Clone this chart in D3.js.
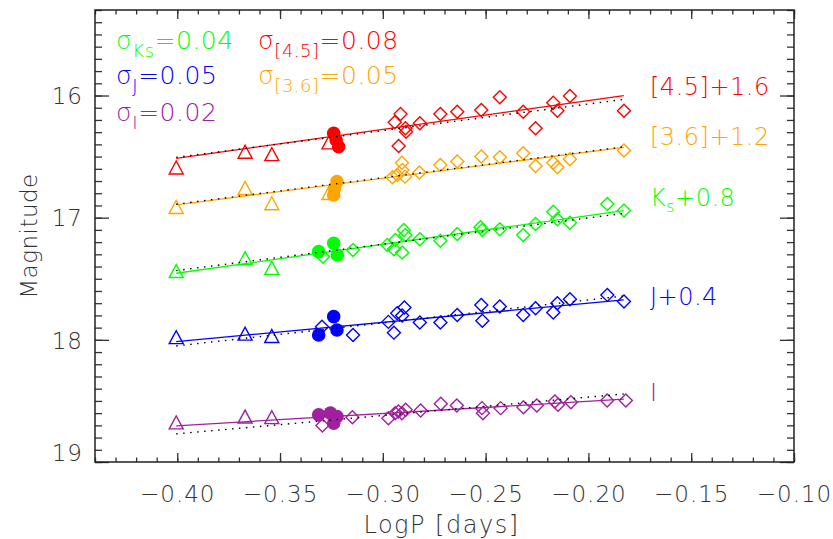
<!DOCTYPE html>
<html>
<head>
<meta charset="utf-8">
<script src="https://cdn.jsdelivr.net/npm/d3@7"></script>
<style>
  body { margin: 0; background: #fff; }
  text { font-family: "DejaVu Sans", sans-serif; font-weight: 200; }
</style>
</head>
<body>
<svg id="chart" width="833" height="539"></svg>
<script>
// bands, top to bottom
const bands = ["[4.5]", "[3.6]", "Ks", "J", "I"];
const bandColors = ["#ff0000", "#ffa500", "#00ff00", "#0000ff", "#a020a0"];
const bandOffsets = ["+1.6", "+1.2", "+0.8", "+0.4", ""];
const sigmas = ["0.08", "0.05", "0.04", "0.05", "0.02"];

// open triangles (4th one only seen in the IRAC bands)
const triangleLogP = [-0.4005, -0.367, -0.354, -0.3262];
const triangleMags = [
  [16.589, 16.460, 16.480, 16.384],
  [16.912, 16.757, 16.882, 16.798],
  [17.437, 17.332, 17.411, null],
  [17.978, 17.949, 17.968, null],
  [18.676, 18.628, 18.633, null]
];

// filled circles [logP, mag]
const circles = [
  [[-0.3239, 16.309], [-0.3227, 16.364], [-0.3215, 16.419]],
  [[-0.3223, 16.705], [-0.3235, 16.760], [-0.3239, 16.814]],
  [[-0.3312, 17.278], [-0.3239, 17.209], [-0.3221, 17.305]],
  [[-0.3312, 17.960], [-0.3239, 17.810], [-0.3223, 17.919]],
  [[-0.3312, 18.614], [-0.3255, 18.600], [-0.3223, 18.627], [-0.3239, 18.682]]
];

// open diamonds [logP, mag]
const diamonds = [
  [[-0.2942, 16.219], [-0.2923, 16.413], [-0.2914, 16.151], [-0.2890, 16.268], [-0.2887, 16.296],
   [-0.2820, 16.227], [-0.2720, 16.151], [-0.2638, 16.132], [-0.2521, 16.118], [-0.2431, 16.014],
   [-0.2317, 16.132], [-0.2257, 16.268], [-0.2171, 16.059], [-0.2151, 16.124], [-0.2090, 16.004],
   [-0.1827, 16.124]],
  [[-0.2953, 16.669], [-0.2929, 16.650], [-0.2907, 16.550], [-0.2905, 16.609], [-0.2892, 16.664],
   [-0.2822, 16.631], [-0.2720, 16.568], [-0.2638, 16.541], [-0.2521, 16.500], [-0.2431, 16.505],
   [-0.2317, 16.473], [-0.2257, 16.577], [-0.2171, 16.550], [-0.2151, 16.587], [-0.2090, 16.522],
   [-0.1827, 16.451]],
  [[-0.3291, 17.319], [-0.3145, 17.264], [-0.2978, 17.223], [-0.2946, 17.258], [-0.2939, 17.182],
   [-0.2906, 17.286], [-0.2898, 17.100], [-0.2890, 17.141], [-0.2820, 17.176], [-0.2720, 17.188],
   [-0.2638, 17.133], [-0.2525, 17.078], [-0.2516, 17.100], [-0.2431, 17.095], [-0.2317, 17.141],
   [-0.2257, 17.051], [-0.2171, 16.951], [-0.2151, 17.013], [-0.2090, 17.041], [-0.1908, 16.888],
   [-0.1827, 16.942]],
  [[-0.3296, 17.892], [-0.3145, 17.960], [-0.2973, 17.853], [-0.2946, 17.941], [-0.2930, 17.782],
   [-0.2906, 17.800], [-0.2895, 17.735], [-0.2820, 17.859], [-0.2720, 17.859], [-0.2638, 17.796],
   [-0.2521, 17.714], [-0.2516, 17.843], [-0.2431, 17.728], [-0.2317, 17.796], [-0.2257, 17.741],
   [-0.2171, 17.777], [-0.2151, 17.700], [-0.2090, 17.667], [-0.1908, 17.632], [-0.1827, 17.687]],
  [[-0.3294, 18.702], [-0.3148, 18.633], [-0.2973, 18.641], [-0.2940, 18.600], [-0.2924, 18.587],
   [-0.2907, 18.600], [-0.2889, 18.573], [-0.2816, 18.579], [-0.2718, 18.524], [-0.2640, 18.538],
   [-0.2518, 18.559], [-0.2513, 18.600], [-0.2427, 18.559], [-0.2316, 18.551], [-0.2251, 18.538],
   [-0.2163, 18.505], [-0.2148, 18.532], [-0.2085, 18.510], [-0.1909, 18.497], [-0.1818, 18.497]]
];

// PL fits, magnitude at the two ends of fitLogP
const fitLogP = [-0.4005, -0.1828];
const solidFits = [[16.514, 16.001], [16.896, 16.424], [17.455, 16.942], [18.014, 17.673], [18.704, 18.486]];
const dottedFits = [[16.506, 16.032], [16.890, 16.420], [17.433, 16.965], [18.050, 17.641], [18.770, 18.443]];

const xTicks = [-0.40, -0.35, -0.30, -0.25, -0.20, -0.15, -0.10];
const yTicks = [16, 17, 18, 19];

const width = 833, height = 539;
const margin = {top: 10, right: 39, bottom: 77, left: 95};

const x = d3.scaleLinear([-0.44, -0.10], [margin.left, width - margin.right]);
const y = d3.scaleLinear([15.3, 19.0], [margin.top, height - margin.bottom]);

const svg = d3.select("#chart");
const axisColor = "#333";

// minor + major ticks on all four sides, pointing inward
const xMinor = d3.range(-0.44, -0.0999, 0.01);
const yMinor = d3.range(15.3, 19.001, 0.1);

function styleAxis(g) {
  g.select(".domain").remove();
  g.selectAll(".tick line").attr("stroke", axisColor).attr("stroke-width", 1.3);
  g.selectAll(".tick text").attr("fill", "#333").attr("font-size", 23)
    .attr("letter-spacing", 1).style("font-family", "DejaVu Sans, sans-serif").style("font-weight", 200);
}

const x0 = y.range()[1], x1 = y.range()[0];
svg.append("g").attr("transform", `translate(0,${x0})`)
  .call(d3.axisBottom(x).tickValues(xMinor).tickSize(-4.5).tickFormat(""))
  .call(styleAxis);
svg.append("g").attr("transform", `translate(0,${x0})`)
  .call(d3.axisBottom(x).tickValues(xTicks).tickSize(-9).tickPadding(24).tickFormat(d3.format(".2f")))
  .call(styleAxis);
svg.append("g").attr("transform", `translate(0,${x1})`)
  .call(d3.axisTop(x).tickValues(xMinor).tickSize(-4.5).tickFormat(""))
  .call(styleAxis);
svg.append("g").attr("transform", `translate(0,${x1})`)
  .call(d3.axisTop(x).tickValues(xTicks).tickSize(-9).tickFormat(""))
  .call(styleAxis);

const yl = x.range()[0], yr = x.range()[1];
svg.append("g").attr("transform", `translate(${yl},0)`)
  .call(d3.axisLeft(y).tickValues(yMinor).tickSize(-7).tickFormat(""))
  .call(styleAxis);
svg.append("g").attr("transform", `translate(${yl},0)`)
  .call(d3.axisLeft(y).tickValues(yTicks).tickSize(-14).tickPadding(12).tickFormat(d3.format("d")))
  .call(styleAxis)
  .call(g => g.selectAll(".tick text").attr("dy", d => d === 19 ? "-0.05em" : "0.36em"));
svg.append("g").attr("transform", `translate(${yr},0)`)
  .call(d3.axisRight(y).tickValues(yMinor).tickSize(-7).tickFormat(""))
  .call(styleAxis);
svg.append("g").attr("transform", `translate(${yr},0)`)
  .call(d3.axisRight(y).tickValues(yTicks).tickSize(-14).tickFormat(""))
  .call(styleAxis);

// frame
svg.append("rect")
  .attr("x", yl).attr("y", x1)
  .attr("width", yr - yl).attr("height", x0 - x1)
  .attr("fill", "none").attr("stroke", "#222").attr("stroke-width", 1.5);

// axis titles
svg.append("text")
  .attr("transform", `translate(37,${(x0 + x1) / 2}) rotate(-90)`)
  .attr("text-anchor", "middle").attr("font-size", 23).attr("fill", "#333")
  .attr("letter-spacing", 0.5)
  .text("Magnitude");
svg.append("text")
  .attr("x", (yl + yr) / 2 - 3).attr("y", 533)
  .attr("text-anchor", "middle").attr("font-size", 24).attr("fill", "#333")
  .attr("letter-spacing", 1.5)
  .text("LogP [days]");

const trianglePath = "M-7,6.5L0,-6.5L7,6.5Z";
const diamondPath = "M0,-6.5L6.5,0L0,6.5L-6.5,0Z";

const plot = svg.append("g");

bands.forEach((band, i) => {
  const c = bandColors[i];
  const g = plot.append("g");

  g.selectAll("path.tri")
    .data(triangleLogP.map((p, j) => [p, triangleMags[i][j]]).filter(d => d[1] != null))
    .join("path")
      .attr("class", "tri")
      .attr("d", trianglePath)
      .attr("transform", d => `translate(${x(d[0])},${y(d[1])})`)
      .attr("fill", "none").attr("stroke", c).attr("stroke-width", 1.4);

  g.selectAll("path.dia")
    .data(diamonds[i])
    .join("path")
      .attr("class", "dia")
      .attr("d", diamondPath)
      .attr("transform", d => `translate(${x(d[0])},${y(d[1])})`)
      .attr("fill", "none").attr("stroke", c).attr("stroke-width", 1.4);

  g.selectAll("circle")
    .data(circles[i])
    .join("circle")
      .attr("cx", d => x(d[0]))
      .attr("cy", d => y(d[1]))
      .attr("r", 6.8)
      .attr("fill", c);

  g.append("line")
    .attr("x1", x(fitLogP[0])).attr("y1", y(solidFits[i][0]))
    .attr("x2", x(fitLogP[1])).attr("y2", y(solidFits[i][1]))
    .attr("stroke", c).attr("stroke-width", 1.3);

  g.append("line")
    .attr("x1", x(fitLogP[0])).attr("y1", y(dottedFits[i][0]))
    .attr("x2", x(fitLogP[1])).attr("y2", y(dottedFits[i][1]))
    .attr("stroke", "#000").attr("stroke-width", 1.4)
    .attr("stroke-dasharray", "1.5,5.5");
});

// band labels on the right
const labelY = [95, 145, 206, 305, 401];
bands.forEach((band, i) => {
  const t = svg.append("text")
    .attr("x", 650).attr("y", labelY[i])
    .attr("font-size", 24).attr("fill", bandColors[i]).attr("letter-spacing", 0.5);
  if (band === "Ks") {
    t.append("tspan").text("K");
    t.append("tspan").attr("font-size", 16).attr("dy", 6).text("s");
    t.append("tspan").attr("dy", -6).text(bandOffsets[i]);
  } else {
    t.text(band + bandOffsets[i]);
  }
});

// scatter of each relation
const sigmaPos = [[258, 49], [258, 84], [116, 49], [116, 84], [116, 121]];
bands.forEach((band, i) => {
  const t = svg.append("text")
    .attr("x", sigmaPos[i][0]).attr("y", sigmaPos[i][1])
    .attr("font-size", 25).attr("fill", bandColors[i]).attr("letter-spacing", 0.5);
  t.append("tspan").text("σ");
  t.append("tspan").attr("font-size", 18).attr("dy", 8).text(band);
  t.append("tspan").attr("dy", -8).text("=" + sigmas[i]);
});
</script>
</body>
</html>
